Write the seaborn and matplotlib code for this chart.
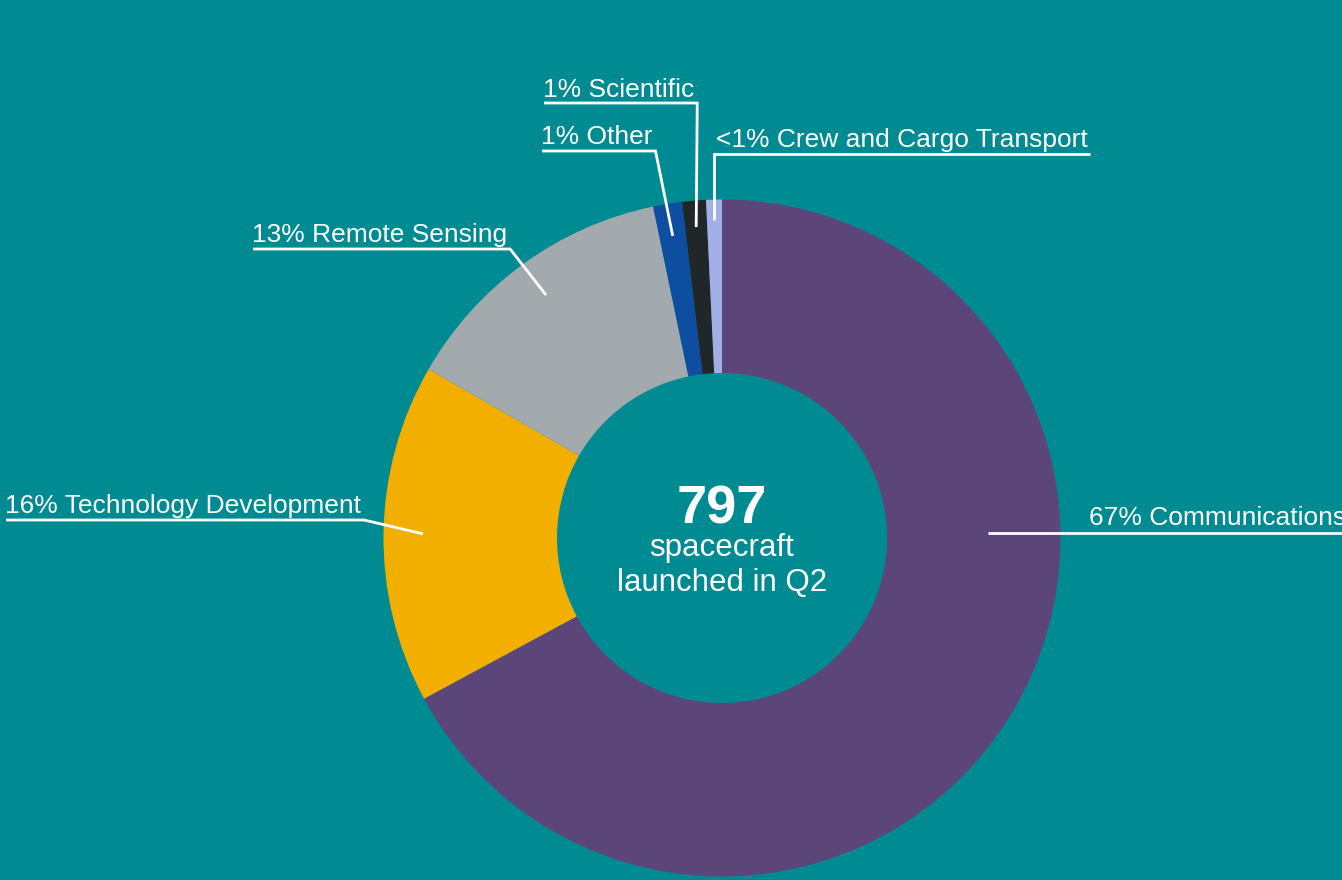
import numpy as np
import matplotlib
matplotlib.use("Agg")
import matplotlib.pyplot as plt
import seaborn as sns

# ---- data ----
categories = ["Communications", "Technology Development", "Remote Sensing",
              "Other", "Scientific", "Crew and Cargo Transport"]
counts = [535, 129, 107, 11, 9, 6]
colors = ["#5C4679", "#F2AF00", "#A3AAAD", "#0E4EA1", "#212629", "#A2AEE6"]
total_text = "797"
center_lines = ["spacecraft", "launched in Q2"]

BG = "#008B93"
sns.set_theme(style="white")
plt.rcParams["font.family"] = ["Liberation Sans", "DejaVu Sans"]

W, H = 1342, 880
fig = plt.figure(figsize=(W / 100, H / 100), dpi=100, facecolor=BG)
ax = fig.add_axes([0, 0, 1, 1])
ax.set_facecolor(BG)

CX, CY = 722, H - 538
R_OUT, R_IN = 338.5, 165
wedges, _ = ax.pie(counts, colors=colors, startangle=90, counterclock=False,
                   radius=R_OUT, center=(CX, CY), frame=False,
                   wedgeprops=dict(width=R_OUT - R_IN, edgecolor="none", linewidth=0))
ax.set_xlim(0, W)
ax.set_ylim(0, H)
ax.set_axis_off()

total = sum(counts)


def pct_label(c):
    p = c / total * 100
    return "<1%" if p < 1 else f"{round(p)}%"


# layout: text left x, baseline y (pixels from top), underline y, anchor radius, side
layout = {
    "Communications": dict(tx=1089, base=525, uy=533, r=266, side="right_edge"),
    "Technology Development": dict(tx=5, base=513, uy=520, r=299, side="left"),
    "Remote Sensing": dict(tx=252, base=242, uy=249, r=300, side="left"),
    "Other": dict(tx=541, base=144, uy=151, r=306, side="left"),
    "Scientific": dict(tx=543, base=97, uy=103, r=312, side="left"),
    "Crew and Cargo Transport": dict(tx=716, base=147, uy=154, r=318, side="right"),
}

renderer = fig.canvas.get_renderer()
lw = 2.0
for cat, cnt, w in zip(categories, counts, wedges):
    L = layout[cat]
    t = ax.text(L["tx"], H - L["base"], f"{pct_label(cnt)} {cat}", color="white",
                fontsize=19, ha="left", va="baseline")
    bb = t.get_window_extent(renderer)
    x_right = bb.x1
    uy = H - L["uy"]
    if L["side"] == "right_edge":
        ay = uy
        ax_ = CX + np.sqrt(L["r"] ** 2 - (ay - CY) ** 2)
        ax.plot([ax_, W + 5], [uy, uy], color="white", lw=lw, clip_on=False,
                solid_capstyle="butt")
        continue
    mid = np.deg2rad((w.theta1 + w.theta2) / 2)
    axp = CX + L["r"] * np.cos(mid)
    ayp = CY + L["r"] * np.sin(mid)
    if L["side"] == "left":
        ex = x_right + 3
        ax.plot([L["tx"] + 1, ex, axp], [uy, uy, ayp], color="white", lw=lw,
                solid_joinstyle="miter", solid_capstyle="butt")
    else:
        ex = axp
        ax.plot([x_right + 2, ex, axp], [uy, uy, ayp], color="white", lw=lw,
                solid_joinstyle="miter", solid_capstyle="butt")

# center text
ax.text(CX, H - 523, total_text, color="white", fontsize=39, fontweight="bold",
        ha="center", va="baseline")
ax.text(CX, H - 556, center_lines[0], color="white", fontsize=22.5,
        ha="center", va="baseline")
ax.text(CX, H - 591, center_lines[1], color="white", fontsize=22.5,
        ha="center", va="baseline")

fig.savefig("out.png", dpi=100, facecolor=BG)
